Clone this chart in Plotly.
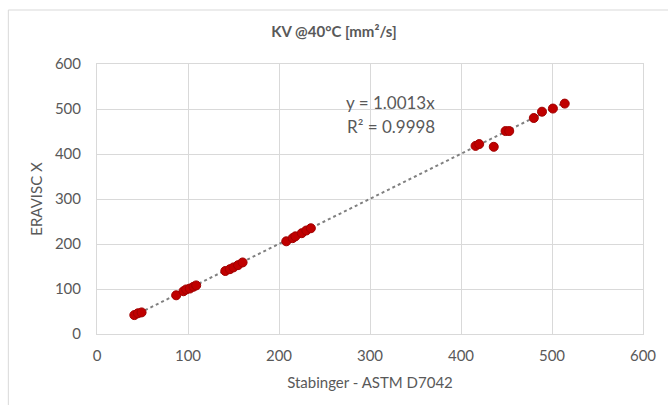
import plotly.graph_objects as go

# Data
stabinger = [41, 45, 49,
             87, 95, 98, 102, 106, 109,
             141, 146, 150, 155, 160,
             208, 215, 218, 225, 230, 235,
             416, 420, 436, 449, 453,
             480, 489, 501, 514]
eravisc = [42, 46, 48,
           86, 95, 99, 101, 105, 108,
           140, 144, 148, 153, 159,
           206, 213, 217, 224, 230, 235,
           418, 422, 416, 451, 451,
           480, 494, 501, 512]
slope = 1.0013
r2 = 0.9998
x_ticks = [0, 100, 200, 300, 400, 500, 600]
y_ticks = [0, 100, 200, 300, 400, 500, 600]

title = "KV @40°C [mm²/s]"
x_title = "Stabinger - ASTM D7042"
y_title = "ERAVISC X"

grey = "#595959"
font_family = "Lato, 'Open Sans', sans-serif"

x_min, x_max = min(stabinger), max(stabinger)
trend_x = [x_min, x_max]
trend_y = [slope * v for v in trend_x]

fig = go.Figure()
fig.add_trace(go.Scatter(
    x=trend_x, y=trend_y, mode="lines",
    line=dict(color="#808080", width=2, dash="dot"),
    hoverinfo="skip", showlegend=False))
fig.add_trace(go.Scatter(
    x=stabinger, y=eravisc, mode="markers",
    marker=dict(color="#C00000", size=9, line=dict(color="#A00000", width=1)),
    showlegend=False))

fig.add_annotation(
    x=0.452, y=0.859, xref="paper", yref="paper",
    text=f"y = {slope}x", showarrow=False,
    xanchor="left", yanchor="middle",
    font=dict(family=font_family, size=17, color=grey))
fig.add_annotation(
    x=0.455, y=0.770, xref="paper", yref="paper",
    text=f"R² = {r2}", showarrow=False,
    xanchor="left", yanchor="middle",
    font=dict(family=font_family, size=17, color=grey))

fig.add_shape(type="line", xref="paper", yref="paper",
              x0=-0.1624, x1=1.2, y0=1.2, y1=1.2,
              line=dict(color="#D9D9D9", width=1))
fig.add_shape(type="line", xref="paper", yref="paper",
              x0=-0.1624, x1=-0.1624, y0=-0.3, y1=1.2,
              line=dict(color="#D9D9D9", width=1))

fig.update_layout(
    width=668, height=405,
    margin=dict(l=97, r=23, t=64, b=71),
    paper_bgcolor="white", plot_bgcolor="white",
    font=dict(family=font_family, color=grey),
    title=dict(text=f"<b>{title}</b>", x=0.5, xanchor="center",
               y=1 - 32 / 405, yanchor="middle",
               font=dict(size=15, color=grey)),
)
fig.update_xaxes(
    range=[0, 600], tickvals=x_ticks, ticktext=[str(v) for v in x_ticks],
    showgrid=True, gridcolor="#D9D9D9", gridwidth=1,
    showline=True, linecolor="#D9D9D9", mirror=True, zeroline=False,
    tickfont=dict(size=15, color=grey), ticks="", ticklabelstandoff=8,
    title=dict(text=x_title, font=dict(size=15, color=grey), standoff=14))
fig.update_yaxes(
    range=[0, 600], tickvals=y_ticks, ticktext=[str(v) for v in y_ticks],
    showgrid=True, gridcolor="#D9D9D9", gridwidth=1,
    showline=True, linecolor="#D9D9D9", mirror=True, zeroline=False,
    tickfont=dict(size=15, color=grey), ticks="", ticklabelstandoff=12,
    title=dict(text=y_title, font=dict(size=15, color=grey), standoff=8))

fig.write_html("out.html", config={"displayModeBar": False},
               post_script="document.body.style.margin='0';document.body.style.overflow='hidden';")
